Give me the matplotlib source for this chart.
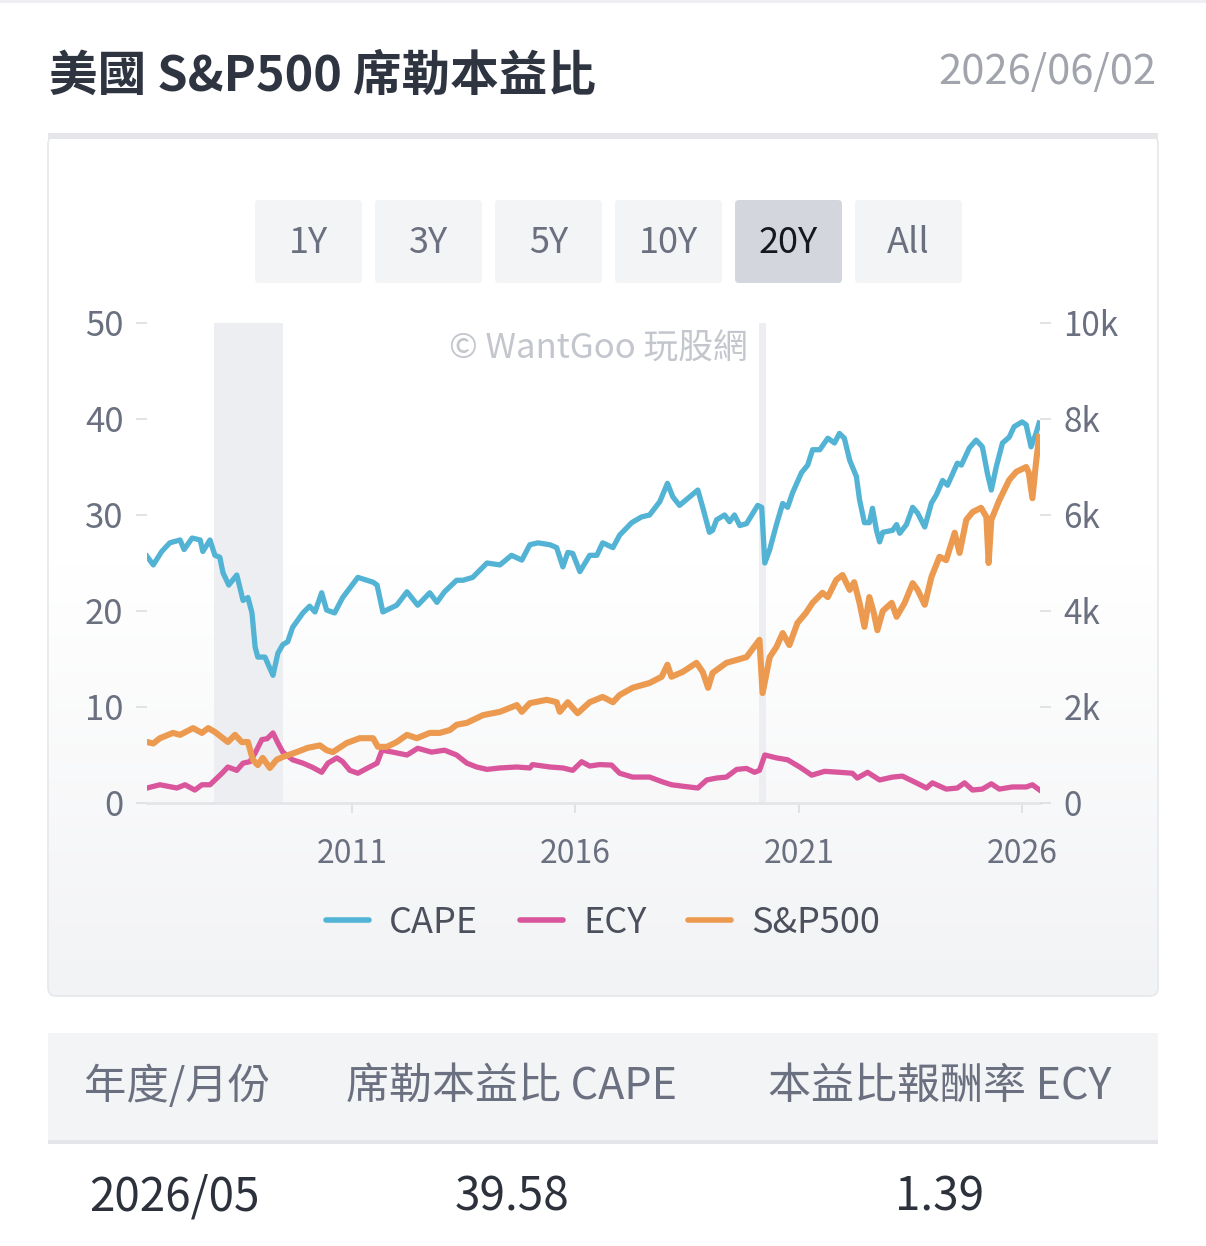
import numpy as np
import matplotlib
matplotlib.use('Agg')
import matplotlib.pyplot as plt
from matplotlib.patches import FancyBboxPatch, Rectangle
from matplotlib.lines import Line2D
from matplotlib.colors import LinearSegmentedColormap

plt.rcParams['font.family'] = ['Noto Sans CJK TC', 'DejaVu Sans']

# --- data (decimal years) ---
cape_years = [2006.41, 2006.55, 2006.74, 2006.92, 2007.15, 2007.24, 2007.42, 2007.60, 2007.66, 2007.82,
              2007.93, 2008.04, 2008.11, 2008.24, 2008.42, 2008.56, 2008.67, 2008.76, 2008.83, 2008.89,
              2009.05, 2009.23, 2009.34, 2009.45, 2009.56, 2009.67, 2009.90, 2010.05, 2010.17, 2010.32,
              2010.43, 2010.61, 2010.79, 2011.13, 2011.33, 2011.47, 2011.56, 2011.69, 2012.00, 2012.23,
              2012.47, 2012.74, 2012.90, 2013.07, 2013.34, 2013.48, 2013.70, 2014.02, 2014.31, 2014.57,
              2014.80, 2014.98, 2015.16, 2015.43, 2015.58, 2015.72, 2015.83, 2015.94, 2016.10, 2016.32,
              2016.48, 2016.61, 2016.84, 2016.99, 2017.26, 2017.48, 2017.66, 2017.89, 2018.06, 2018.18,
              2018.33, 2018.56, 2018.74, 2018.85, 2019.00, 2019.07, 2019.16, 2019.34, 2019.45, 2019.56,
              2019.68, 2019.83, 2020.08, 2020.17, 2020.24, 2020.35, 2020.50, 2020.64, 2020.75, 2020.86,
              2021.06, 2021.20, 2021.31, 2021.47, 2021.65, 2021.80, 2021.91, 2022.02, 2022.14, 2022.29,
              2022.36, 2022.47, 2022.58, 2022.65, 2022.74, 2022.81, 2022.88, 2023.10, 2023.19, 2023.26,
              2023.41, 2023.55, 2023.66, 2023.82, 2023.97, 2024.08, 2024.22, 2024.33, 2024.55, 2024.64,
              2024.82, 2024.97, 2025.11, 2025.22, 2025.31, 2025.42, 2025.56, 2025.71, 2025.82, 2026.00,
              2026.09, 2026.20, 2026.31, 2026.38]
cape_vals = [25.7, 24.8, 26.2, 27.1, 27.4, 26.4, 27.6, 27.4, 26.2, 27.4,
             25.8, 25.6, 24.0, 22.7, 23.75, 21.1, 21.4, 19.8, 16.25, 15.2,
             15.2, 13.3, 15.6, 16.5, 16.8, 18.3, 19.8, 20.5, 19.9, 21.9,
             20.1, 19.8, 21.4, 23.5, 23.2, 23.0, 22.7, 19.9, 20.6, 22.0,
             20.6, 21.9, 20.9, 22.0, 23.2, 23.2, 23.5, 25.0, 24.8, 25.8,
             25.3, 26.9, 27.1, 26.9, 26.6, 24.6, 26.1, 26.0, 24.1, 25.8,
             25.8, 27.1, 26.6, 27.9, 29.2, 29.8, 30.0, 31.4, 33.3, 31.9,
             31.0, 31.9, 32.6, 30.8, 28.2, 28.4, 29.5, 30.0, 29.3, 30.0,
             28.9, 29.1, 31.0, 30.8, 25.0, 26.4, 29.0, 31.2, 30.8, 32.3,
             34.4, 35.2, 36.8, 36.8, 38.0, 37.5, 38.5, 38.0, 35.7, 34.0,
             31.6, 29.2, 29.2, 30.7, 28.4, 27.2, 28.2, 28.4, 29.0, 28.1,
             29.0, 30.8, 30.2, 28.75, 31.25, 32.1, 33.6, 33.1, 35.4, 35.2,
             37.0, 37.8, 37.1, 34.4, 32.6, 35.0, 37.5, 38.1, 39.2, 39.7,
             39.4, 37.1, 38.5, 39.58]

ecy_years = [2006.41, 2006.70, 2007.08, 2007.26, 2007.48, 2007.64, 2007.82, 2008.09, 2008.22, 2008.42,
             2008.56, 2008.71, 2008.83, 2008.98, 2009.10, 2009.23, 2009.34, 2009.45, 2009.67, 2009.90,
             2010.10, 2010.32, 2010.46, 2010.66, 2010.79, 2010.95, 2011.13, 2011.33, 2011.56, 2011.67,
             2011.91, 2012.23, 2012.47, 2012.78, 2013.07, 2013.34, 2013.57, 2013.79, 2014.02, 2014.31,
             2014.69, 2014.98, 2015.04, 2015.43, 2015.72, 2015.94, 2016.14, 2016.32, 2016.54, 2016.81,
             2016.99, 2017.28, 2017.66, 2017.95, 2018.15, 2018.40, 2018.74, 2018.94, 2019.16, 2019.38,
             2019.61, 2019.83, 2020.01, 2020.12, 2020.24, 2020.50, 2020.75, 2021.02, 2021.29, 2021.58,
             2021.91, 2022.20, 2022.31, 2022.54, 2022.81, 2023.10, 2023.32, 2023.63, 2023.86, 2023.99,
             2024.30, 2024.55, 2024.71, 2024.89, 2025.11, 2025.31, 2025.49, 2025.78, 2026.09, 2026.23,
             2026.38]
ecy_vals = [1.56, 1.9, 1.56, 1.9, 1.35, 1.9, 1.9, 3.1, 3.75, 3.4,
            4.15, 4.3, 5.2, 6.6, 6.7, 7.3, 6.25, 5.3, 4.5, 4.15,
            3.75, 3.2, 4.15, 4.7, 4.3, 3.4, 3.1, 3.6, 4.15, 5.5,
            5.3, 5.0, 5.7, 5.3, 5.5, 5.0, 4.15, 3.75, 3.5, 3.65,
            3.75, 3.65, 4.0, 3.75, 3.65, 3.4, 4.3, 3.85, 4.0, 3.95,
            3.1, 2.7, 2.7, 2.2, 1.9, 1.75, 1.56, 2.4, 2.6, 2.7,
            3.5, 3.6, 3.2, 3.4, 5.0, 4.7, 4.5, 3.75, 2.9, 3.3,
            3.2, 3.1, 2.6, 3.2, 2.4, 2.7, 2.8, 2.1, 1.56, 2.1,
            1.45, 1.56, 2.1, 1.35, 1.45, 2.0, 1.45, 1.67, 1.67, 1.9,
            1.39]

sp_years = [2006.41, 2006.55, 2006.70, 2006.99, 2007.15, 2007.44, 2007.64, 2007.78, 2007.93, 2008.11,
            2008.22, 2008.38, 2008.53, 2008.67, 2008.78, 2008.89, 2009.00, 2009.16, 2009.31, 2009.45,
            2009.76, 2010.01, 2010.28, 2010.43, 2010.57, 2010.88, 2011.17, 2011.47, 2011.58, 2011.78,
            2012.00, 2012.23, 2012.45, 2012.74, 2012.96, 2013.19, 2013.34, 2013.57, 2013.93, 2014.31,
            2014.69, 2014.80, 2014.98, 2015.36, 2015.58, 2015.65, 2015.83, 2016.05, 2016.32, 2016.61,
            2016.84, 2016.99, 2017.28, 2017.66, 2017.93, 2018.06, 2018.15, 2018.40, 2018.71, 2018.85,
            2018.97, 2019.07, 2019.38, 2019.61, 2019.83, 2020.12, 2020.19, 2020.35, 2020.50, 2020.64,
            2020.79, 2020.97, 2021.16, 2021.31, 2021.53, 2021.65, 2021.84, 2021.98, 2022.14, 2022.24,
            2022.36, 2022.47, 2022.58, 2022.68, 2022.76, 2022.88, 2023.08, 2023.19, 2023.37, 2023.55,
            2023.66, 2023.82, 2023.97, 2024.15, 2024.30, 2024.49, 2024.60, 2024.75, 2024.89, 2025.08,
            2025.20, 2025.25, 2025.31, 2025.49, 2025.71, 2025.87, 2026.09, 2026.15, 2026.23, 2026.31,
            2026.38]
sp_vals = [1270, 1240, 1350, 1460, 1420, 1560, 1460, 1560, 1480, 1350,
           1270, 1420, 1270, 1270, 900, 790, 940, 730, 900, 960,
           1060, 1150, 1200, 1100, 1060, 1250, 1350, 1350, 1170, 1170,
           1270, 1420, 1350, 1460, 1460, 1520, 1630, 1670, 1830, 1900,
           2040, 1900, 2080, 2150, 2100, 1900, 2100, 1870, 2100, 2210,
           2100, 2250, 2400, 2500, 2630, 2880, 2630, 2730, 2920, 2730,
           2400, 2710, 2920, 2980, 3040, 3400, 2290, 3040, 3250, 3540,
           3290, 3750, 3960, 4170, 4380, 4290, 4650, 4750, 4440, 4600,
           4170, 3670, 4290, 3960, 3600, 4000, 4170, 3880, 4170, 4580,
           4440, 4130, 4710, 5130, 5060, 5630, 5210, 5900, 6060, 6150,
           5960, 5000, 5900, 6310, 6730, 6900, 7000, 6880, 6350, 7080,
           7630]

recessions = [(2007.92, 2009.45), (2020.12, 2020.26)]
buttons = ['1Y', '3Y', '5Y', '10Y', '20Y', 'All']
selected = '20Y'
series_names = ['CAPE', 'ECY', 'S&P500']
colors = ['#52b3d4', '#d9559c', '#ec9a50']
table_head = ['年度/月份', '席勒本益比 CAPE', '本益比報酬率 ECY']
table_row = ['2026/05', '39.58', '1.39']

W, H = 1206, 1246
fig = plt.figure(figsize=(W / 100, H / 100), dpi=100)
bg = fig.add_axes([0, 0, 1, 1])
bg.set_xlim(0, W)
bg.set_ylim(H, 0)
bg.axis('off')

# header
bg.add_patch(Rectangle((0, 0), W, 3, color='#eeeff2', lw=0))
bg.text(49, 76, '美國 S&P500 席勒本益比', fontsize=35, fontweight='bold', color='#2f3441', va='center')
bg.text(1156, 73, '2026/06/02', fontsize=30, color='#a1a4ad', va='center', ha='right')

# card with gradient
card = FancyBboxPatch((48, 136), 1110, 860, boxstyle='round,pad=0,rounding_size=8',
                      fc='none', ec='#e6e8eb', lw=1.2)
bg.add_patch(card)
cmap = LinearSegmentedColormap.from_list('g', ['#ffffff', '#ffffff', '#f2f3f5'])
grad = np.linspace(0, 1, 256).reshape(-1, 1)
im = bg.imshow(grad, extent=[48, 1158, 996, 136], cmap=cmap, aspect='auto', zorder=0)
im.set_clip_path(card)
bg.add_patch(Rectangle((48, 133), 1110, 6, color='#e4e6ea', lw=0, zorder=2))

# range buttons
for i, b in enumerate(buttons):
    x0 = 255 + i * 120
    sel = b == selected
    bg.add_patch(FancyBboxPatch((x0, 200), 107, 83, boxstyle='round,pad=0,rounding_size=4',
                                fc='#d3d6dc' if sel else '#f3f4f6', ec='none', zorder=2))
    bg.text(x0 + 53.5, 243, b, fontsize=26, color='#15181f' if sel else '#6b7080',
            ha='center', va='center', zorder=3)

# table
bg.add_patch(Rectangle((48, 1033), 1110, 108, color='#f3f4f6', lw=0))
bg.add_patch(Rectangle((48, 1140), 1110, 4, color='#e3e5e9', lw=0))
bg.text(84, 1087, table_head[0], fontsize=30.5, color='#6b7080', va='center')
bg.text(512, 1087, table_head[1], fontsize=31, color='#6b7080', va='center', ha='center')
bg.text(940, 1087, table_head[2], fontsize=31, color='#6b7080', va='center', ha='center')
bg.text(89, 1197, table_row[0], fontsize=33, color='#2c313c', va='center')
bg.text(512, 1197, table_row[1], fontsize=33, color='#2c313c', va='center', ha='center')
bg.text(940, 1197, table_row[2], fontsize=33, color='#2c313c', va='center', ha='center')

# main chart
ax = fig.add_axes([147 / W, (H - 803) / H, (1040 - 147) / W, (803 - 323) / H])
ax.patch.set_alpha(0)
ax2 = ax.twinx()
for r0, r1 in recessions:
    ax.axvspan(r0, r1, color='#eceef1', lw=0, zorder=0)

ax.plot(cape_years, cape_vals, color=colors[0], lw=3.8, solid_joinstyle='round', zorder=3)
ax.plot(ecy_years, ecy_vals, color=colors[1], lw=3.8, solid_joinstyle='round', zorder=3)
ax2.plot(sp_years, sp_vals, color=colors[2], lw=4.4, solid_joinstyle='round', zorder=3)

ax.set_xlim(2006.41, 2026.4)
ax.set_ylim(0, 50)
ax2.set_ylim(0, 10000)
ax.set_yticks([0, 10, 20, 30, 40, 50])
ax2.set_yticks([0, 2000, 4000, 6000, 8000, 10000])
ax2.set_yticklabels(['0', '2k', '4k', '6k', '8k', '10k'])
ax.set_xticks([2011, 2016, 2021, 2026])
ax.set_xticklabels(['2011', '2016', '2021', '2026'])

for a in (ax, ax2):
    for s in a.spines.values():
        s.set_visible(False)
ax.spines['bottom'].set_visible(True)
ax.spines['bottom'].set_color('#e3e5e8')
ax.spines['bottom'].set_linewidth(2)
ax.tick_params(axis='y', length=8, width=1.2, color='#dcdee2', pad=9, labelsize=25, labelcolor='#6b7080')
ax2.tick_params(axis='y', length=8, width=1.2, color='#dcdee2', pad=9, labelsize=24, labelcolor='#6b7080')
ax.tick_params(axis='x', length=7, width=1.2, color='#dcdee2', pad=18, labelsize=23, labelcolor='#6b7080')

ax.text(0.506, 0.945, '© WantGoo 玩股網', transform=ax.transAxes, ha='center', va='center',
        fontsize=25, color='#c3c6cd', zorder=1)

handles = [Line2D([], [], color=c, lw=4, solid_capstyle='round') for c in colors]
fig.legend(handles, series_names, loc='center', bbox_to_anchor=(603 / W, 1 - 923 / H), ncol=3,
           frameon=False, fontsize=26, labelcolor='#4b505c', handlelength=1.2, handletextpad=0.55,
           columnspacing=1.15)

fig.savefig('out.png', dpi=100)
